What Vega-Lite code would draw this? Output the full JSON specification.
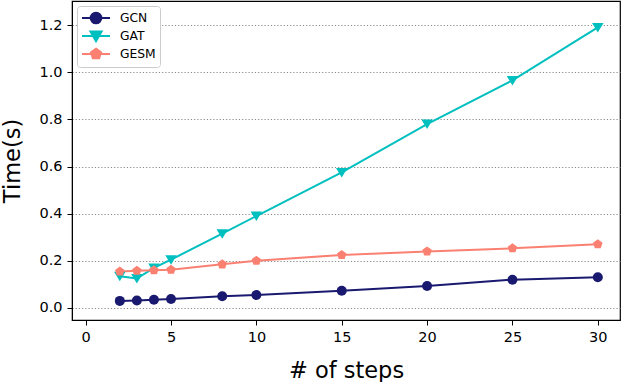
{
  "$schema": "https://vega.github.io/schema/vega-lite/v6.json",
  "width": 548,
  "height": 319,
  "autosize": {"type": "none"},
  "padding": {"left": 72, "top": 1, "right": 2, "bottom": 62},
  "background": "white",
  "config": {
    "font": "DejaVu Sans",
    "view": {"stroke": "black", "strokeWidth": 1.2},
    "axis": {
      "domainColor": "black",
      "tickColor": "black",
      "tickSize": 5,
      "labelFontSize": 14.5,
      "labelColor": "black",
      "titleFontSize": 22.5,
      "titleFontWeight": "normal",
      "titleColor": "black",
      "labelPadding": 5
    }
  },
  "data": {
    "values": [
      {"steps": 2, "time": 0.030, "model": "GCN"},
      {"steps": 3, "time": 0.032, "model": "GCN"},
      {"steps": 4, "time": 0.035, "model": "GCN"},
      {"steps": 5, "time": 0.038, "model": "GCN"},
      {"steps": 8, "time": 0.050, "model": "GCN"},
      {"steps": 10, "time": 0.055, "model": "GCN"},
      {"steps": 15, "time": 0.073, "model": "GCN"},
      {"steps": 20, "time": 0.093, "model": "GCN"},
      {"steps": 25, "time": 0.120, "model": "GCN"},
      {"steps": 30, "time": 0.130, "model": "GCN"},
      {"steps": 2, "time": 0.135, "model": "GAT"},
      {"steps": 3, "time": 0.125, "model": "GAT"},
      {"steps": 4, "time": 0.170, "model": "GAT"},
      {"steps": 5, "time": 0.205, "model": "GAT"},
      {"steps": 8, "time": 0.315, "model": "GAT"},
      {"steps": 10, "time": 0.390, "model": "GAT"},
      {"steps": 15, "time": 0.575, "model": "GAT"},
      {"steps": 20, "time": 0.780, "model": "GAT"},
      {"steps": 25, "time": 0.965, "model": "GAT"},
      {"steps": 30, "time": 1.190, "model": "GAT"},
      {"steps": 2, "time": 0.155, "model": "GESM"},
      {"steps": 3, "time": 0.158, "model": "GESM"},
      {"steps": 4, "time": 0.160, "model": "GESM"},
      {"steps": 5, "time": 0.162, "model": "GESM"},
      {"steps": 8, "time": 0.185, "model": "GESM"},
      {"steps": 10, "time": 0.200, "model": "GESM"},
      {"steps": 15, "time": 0.225, "model": "GESM"},
      {"steps": 20, "time": 0.240, "model": "GESM"},
      {"steps": 25, "time": 0.253, "model": "GESM"},
      {"steps": 30, "time": 0.270, "model": "GESM"}
    ]
  },
  "encoding": {
    "x": {
      "field": "steps",
      "type": "quantitative",
      "scale": {"domain": [-0.8, 31.3], "nice": false, "zero": false},
      "axis": {"values": [0, 5, 10, 15, 20, 25, 30], "grid": false, "title": "# of steps", "titlePadding": 16, "format": "d"}
    },
    "y": {
      "field": "time",
      "type": "quantitative",
      "scale": {"domain": [-0.051, 1.302], "nice": false, "zero": false},
      "axis": {
        "values": [0, 0.2, 0.4, 0.6, 0.8, 1.0, 1.2],
        "format": ".1f",
        "title": "Time(s)",
        "titlePadding": 14,
        "grid": true,
        "gridColor": "#888",
        "gridDash": [1.2, 2],
        "gridWidth": 1
      }
    }
  },
  "layer": [
    {
      "mark": {"type": "line", "strokeWidth": 2},
      "encoding": {
        "color": {
          "field": "model",
          "type": "nominal",
          "scale": {"domain": ["GAT", "GCN", "GESM"], "range": ["#00BFBF", "#191970", "#FA8072"]},
          "legend": null
        }
      }
    },
    {
      "transform": [{"filter": "datum.model === 'GCN'"}],
      "mark": {"type": "point", "filled": true, "opacity": 1, "size": 100, "shape": "circle", "color": "#191970"}
    },
    {
      "transform": [{"filter": "datum.model === 'GAT'"}],
      "mark": {"type": "point", "filled": true, "opacity": 1, "size": 100, "shape": "M-1.15,-0.9L1.15,-0.9L0,1.0Z", "color": "#00BFBF"}
    },
    {
      "transform": [{"filter": "datum.model === 'GESM'"}],
      "mark": {"type": "point", "filled": true, "opacity": 1, "size": 100, "shape": "M0,-1L0.951,-0.309L0.588,0.809L-0.588,0.809L-0.951,-0.309Z", "color": "#FA8072"}
    },
    {
      "mark": {"type": "point", "filled": true, "opacity": 0, "size": 10, "strokeWidth": 2},
      "encoding": {
        "fill": {
          "field": "model",
          "type": "nominal",
          "scale": {"domain": ["GCN", "GAT", "GESM"], "range": ["#191970", "#00BFBF", "#FA8072"]},
          "legend": {
            "title": null, "orient": "none", "legendX": 5, "legendY": 5,
            "strokeColor": "#cccccc", "fillColor": "white", "cornerRadius": 3, "padding": 4,
            "labelFontSize": 12.3, "labelColor": "black", "symbolSize": 196, "labelOffset": 23,
            "rowPadding": -2, "symbolStrokeWidth": 2, "symbolOpacity": 1
          }
        },
        "stroke": {
          "field": "model",
          "type": "nominal",
          "scale": {"domain": ["GCN", "GAT", "GESM"], "range": ["#191970", "#00BFBF", "#FA8072"]},
          "legend": {
            "title": null, "orient": "none", "legendX": 5, "legendY": 5,
            "strokeColor": "#cccccc", "fillColor": "white", "cornerRadius": 3, "padding": 4,
            "labelFontSize": 12.3, "labelColor": "black", "symbolSize": 196, "labelOffset": 23,
            "rowPadding": -2, "symbolStrokeWidth": 2, "symbolOpacity": 1
          }
        },
        "shape": {
          "field": "model",
          "type": "nominal",
          "scale": {
            "domain": ["GCN", "GAT", "GESM"],
            "range": [
              "M-1,0H3M0.24,0A0.76,0.76 0 1,1 1.76,0A0.76,0.76 0 1,1 0.24,0Z",
              "M-1,0H3M0.2,-0.66L1.8,-0.66L1,0.76Z",
              "M-1,0H3M1,-0.76L1.723,-0.235L1.447,0.615L0.553,0.615L0.277,-0.235Z"
            ]
          },
          "legend": {
            "title": null, "orient": "none", "legendX": 5, "legendY": 5,
            "strokeColor": "#cccccc", "fillColor": "white", "cornerRadius": 3, "padding": 4,
            "labelFontSize": 12.3, "labelColor": "black", "symbolSize": 196, "labelOffset": 23,
            "rowPadding": -2, "symbolStrokeWidth": 2, "symbolOpacity": 1
          }
        }
      }
    }
  ]
}
